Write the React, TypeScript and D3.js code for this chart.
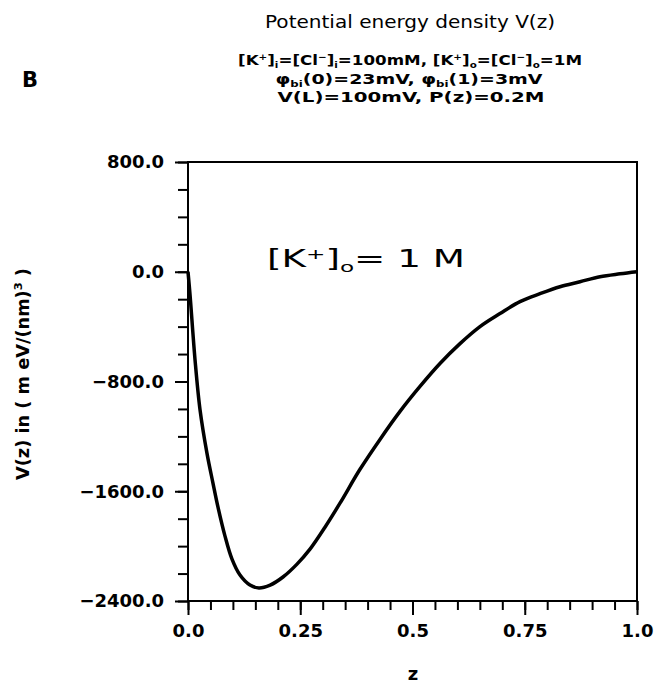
import React, { useEffect, useRef } from 'react';
import * as d3 from 'd3';

const zValues = [0, 0.0045, 0.0156, 0.0267, 0.0423, 0.0557, 0.0668, 0.0824, 0.098, 0.1158, 0.138, 0.158, 0.183, 0.2116, 0.2428, 0.2717, 0.3051, 0.3385, 0.3831, 0.4276, 0.4722, 0.5167, 0.5612, 0.6058, 0.6503, 0.6949, 0.7394, 0.784, 0.8285, 0.873, 0.9176, 0.9621, 1.0];
const vValues = [0, -167, -640, -1004, -1324, -1542, -1716, -1927, -2095, -2211, -2284, -2305, -2284, -2225, -2131, -2022, -1862, -1687, -1440, -1222, -1018, -836, -669, -524, -400, -305, -218, -160, -109, -73, -36, -15, 0];

const xTicks = [0, 0.25, 0.5, 0.75, 1.0];
const xTickLabels = ['0.0', '0.25', '0.5', '0.75', '1.0'];
const yTicks = [-2400, -1600, -800, 0, 800];
const yTickLabels = ['−2400.0', '−1600.0', '−800.0', '0.0', '800.0'];

const W = 671;
const H = 685;
const M = { left: 188, right: 637, top: 162, bottom: 601 };
const FONT = '"DejaVu Sans", Verdana, sans-serif';

type Seg = [string, 'n' | 'sup' | 'sub'];

const line2: Seg[] = [['[K', 'n'], ['+', 'sup'], [']', 'n'], ['i', 'sub'], ['=[Cl', 'n'], ['−', 'sup'], [']', 'n'], ['i', 'sub'],
  ['=100mM, [K', 'n'], ['+', 'sup'], [']', 'n'], ['o', 'sub'], ['=[Cl', 'n'], ['−', 'sup'], [']', 'n'], ['o', 'sub'], ['=1M', 'n']];
const line3: Seg[] = [['φ', 'n'], ['bi', 'sub'], ['(0)=23mV, φ', 'n'], ['bi', 'sub'], ['(1)=3mV', 'n']];
const line4: Seg[] = [['V(L)=100mV, P(z)=0.2M', 'n']];
const annot: Seg[] = [['[K', 'n'], ['+', 'sup'], [']', 'n'], ['o', 'sub'], ['= 1 M', 'n']];

const RichText = ({ segs, x, y, size, len, weight = 'normal', anchor = 'middle' }: any) => {
  let cur = 0;
  return (
    <text x={x} y={y} textAnchor={anchor} fontFamily={FONT} fontSize={size} fontWeight={weight} fill="#000"
      textLength={len} lengthAdjust="spacingAndGlyphs">
      {segs.map(([t, k]: Seg, i: number) => {
        const target = k === 'sup' ? -size * 0.35 : k === 'sub' ? size * 0.2 : 0;
        const dy = target - cur;
        cur = target;
        return (
          <tspan key={i} dy={dy} fontSize={k === 'n' ? size : size * 0.62}>{t}</tspan>
        );
      })}
    </text>
  );
};

const App = () => {
  const ref = useRef<SVGSVGElement>(null);

  const x = d3.scaleLinear().domain([0, 1]).range([M.left, M.right]);
  const y = d3.scaleLinear().domain([-2400, 800]).range([M.bottom, M.top]);

  useEffect(() => {
    const svg = d3.select(ref.current);
    const g = svg.select('.axes');
    g.selectAll('*').remove();

    const styleAxis = (sel: any) => {
      sel.select('.domain').remove();
      sel.selectAll('line').attr('stroke', '#000').attr('stroke-width', 2);
      sel.selectAll('text').attr('font-family', FONT).attr('font-size', 18)
        .attr('font-weight', 'bold').attr('fill', '#000');
    };

    // minor ticks
    g.append('g').attr('transform', `translate(0,${M.bottom})`)
      .call(d3.axisBottom(x).tickValues(d3.range(0, 1.0001, 0.05)).tickSize(9).tickFormat(() => ''))
      .call(styleAxis);
    g.append('g').attr('transform', `translate(${M.left},0)`)
      .call(d3.axisLeft(y).tickValues(d3.range(-2400, 801, 200)).tickSize(10).tickFormat(() => ''))
      .call(styleAxis);

    // major ticks
    g.append('g').attr('transform', `translate(0,${M.bottom})`)
      .call(d3.axisBottom(x).tickValues(xTicks).tickSize(14).tickPadding(9)
        .tickFormat((_d, i) => xTickLabels[i]))
      .call(styleAxis);
    g.append('g').attr('transform', `translate(${M.left},0)`)
      .call(d3.axisLeft(y).tickValues(yTicks).tickSize(13).tickPadding(11)
        .tickFormat((_d, i) => yTickLabels[i]))
      .call(styleAxis);
  }, []);

  const pts = zValues.map((z, i) => [z, vValues[i]] as [number, number]);
  const path = d3.line<[number, number]>()
    .x(d => x(d[0]))
    .y(d => y(d[1]))
    .curve(d3.curveCatmullRom.alpha(0.5))(pts);

  return (
    <svg ref={ref} width={W} height={H} style={{ position: 'absolute', left: 0, top: 0, background: '#fff' }}>
      <rect width={W} height={H} fill="#fff" />
      <text x={410} y={28} textAnchor="middle" fontFamily={FONT} fontSize={18}
        textLength={290} lengthAdjust="spacingAndGlyphs">Potential energy density V(z)</text>
      <RichText segs={line2} x={410} y={65} size={14.5} len={344} weight="bold" />
      <RichText segs={line3} x={409} y={84} size={14.5} len={267} weight="bold" />
      <RichText segs={line4} x={411} y={102} size={14.5} len={267} weight="bold" />
      <text x={22} y={87} fontFamily={FONT} fontSize={21} fontWeight="bold">B</text>

      <rect x={M.left} y={M.top} width={M.right - M.left} height={M.bottom - M.top}
        fill="none" stroke="#000" strokeWidth={2} />
      <g className="axes" />
      <path d={path ?? ''} fill="none" stroke="#000" strokeWidth={3.5} />

      <RichText segs={annot} x={267} y={267} size={24} len={198} anchor="start" />

      <text transform="translate(29,374) rotate(-90)" textAnchor="middle"
        fontFamily={FONT} fontSize={17} fontWeight="bold" textLength={212} lengthAdjust="spacingAndGlyphs">
        <tspan>V(z) in ( m eV/(nm)</tspan><tspan dy={-7} fontSize={11}>3</tspan><tspan dy={7}> )</tspan>
      </text>
      <text x={413} y={680} textAnchor="middle" fontFamily={FONT} fontSize={18} fontWeight="bold">z</text>
    </svg>
  );
};

export default App;
